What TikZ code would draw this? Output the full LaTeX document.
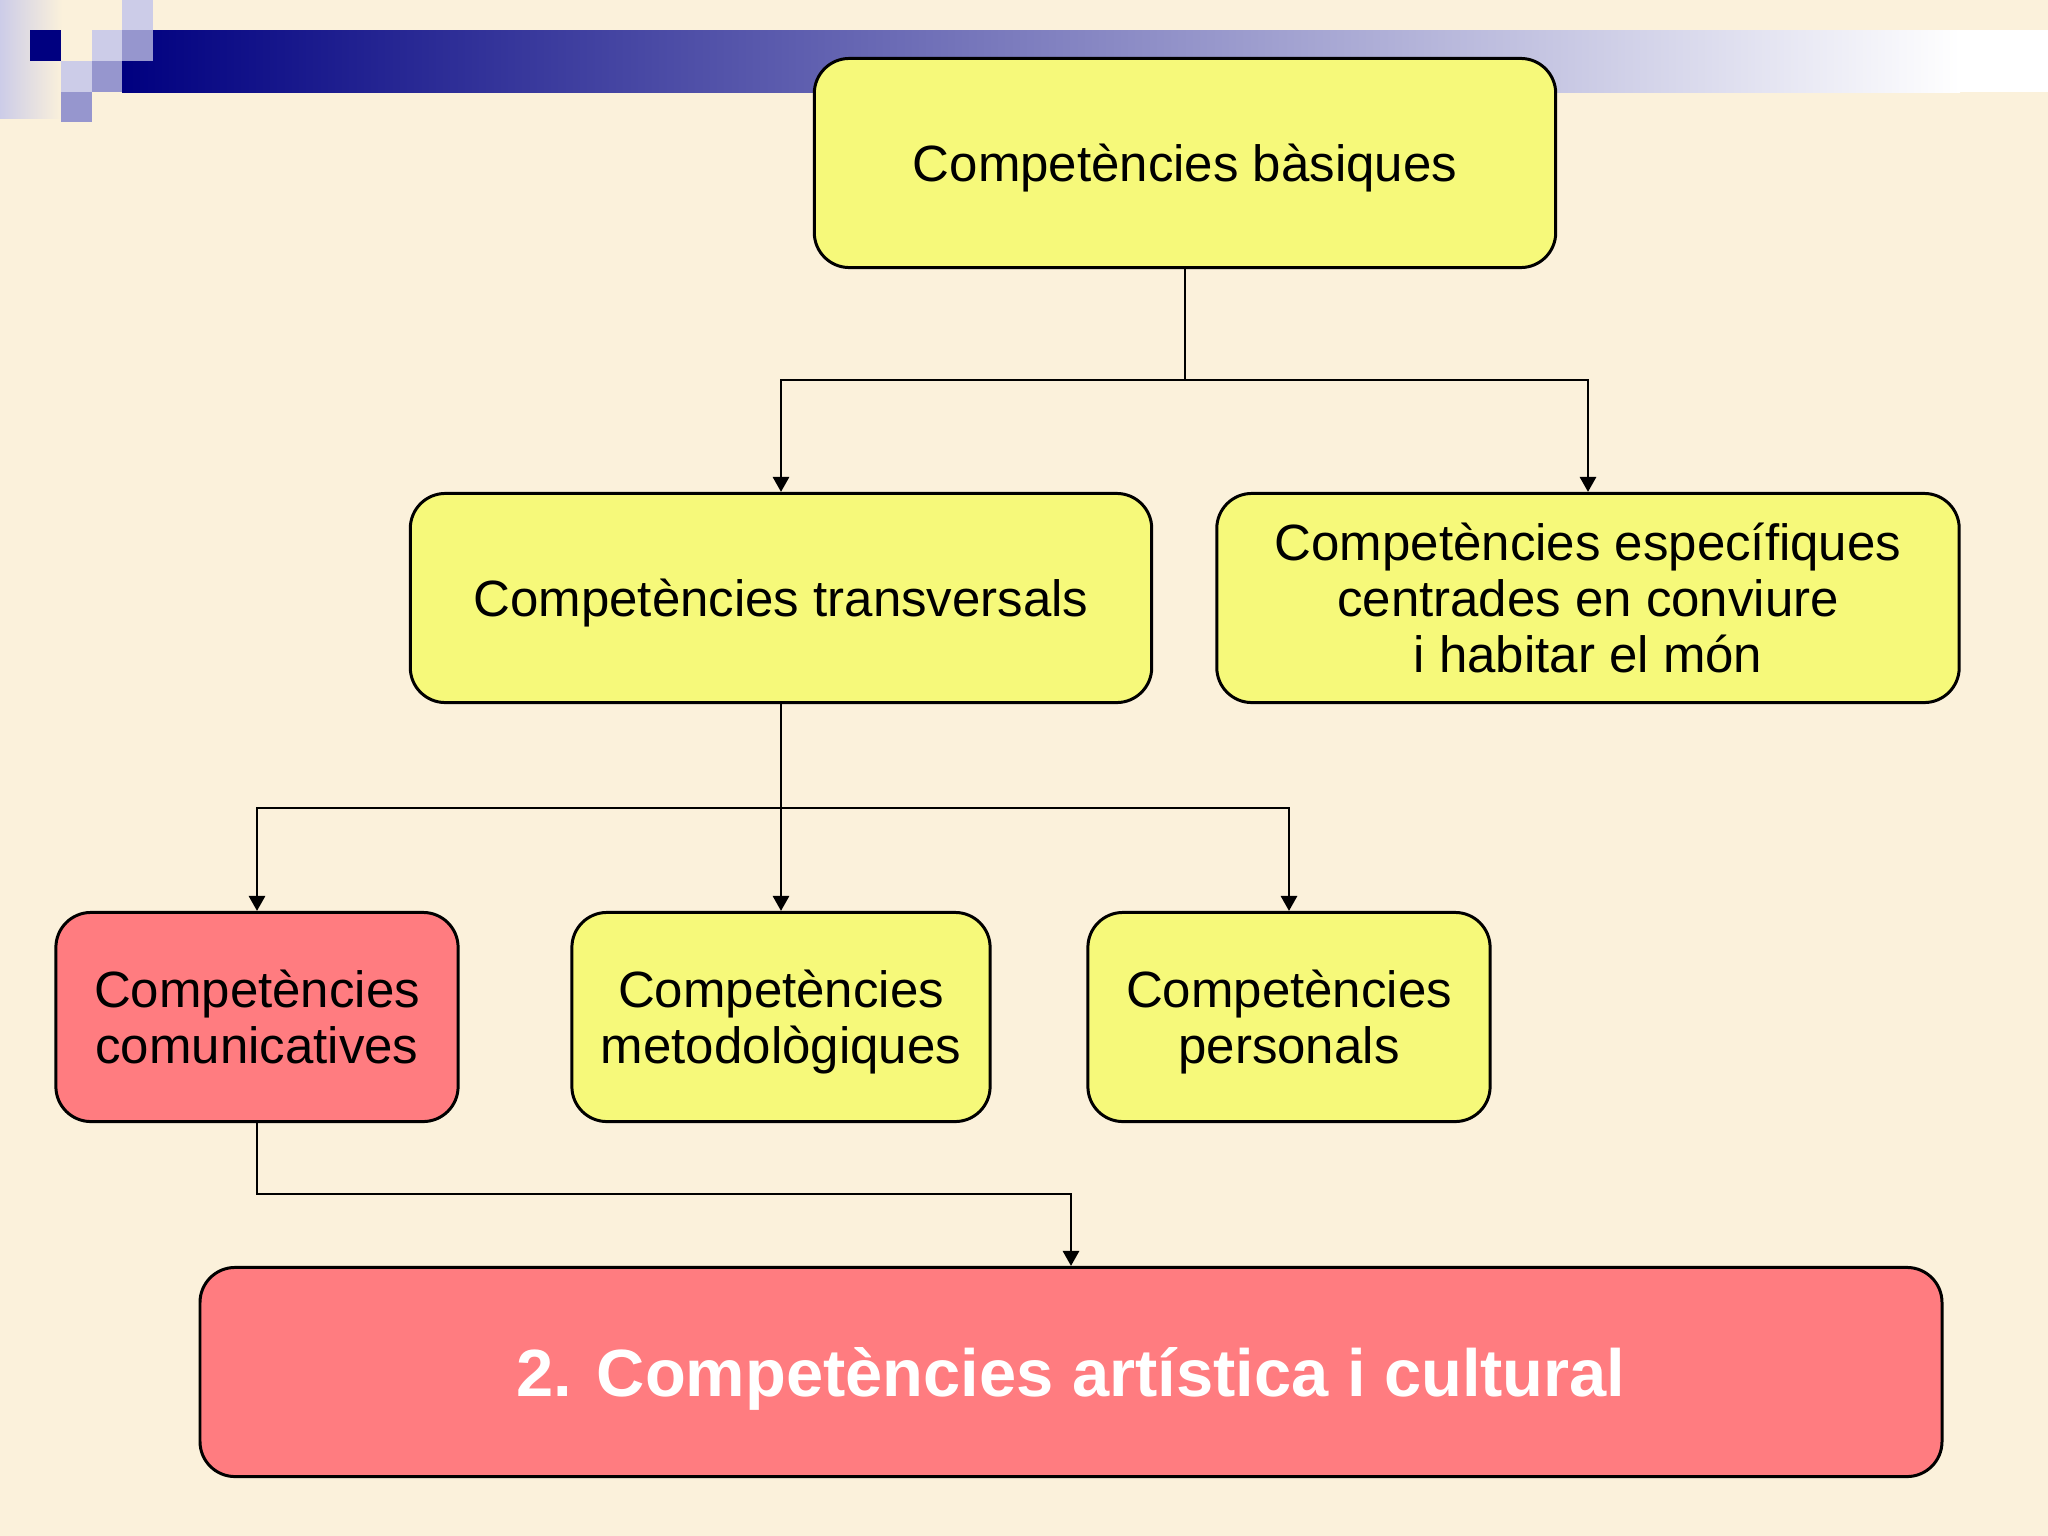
\documentclass[tikz,border=0pt]{standalone}
\usepackage{fontspec}
\setmainfont{Liberation Sans}
\usetikzlibrary{arrows.meta}
\definecolor{Parchment}{RGB}{251,241,219}
\definecolor{BoxYellow}{RGB}{246,249,122}
\definecolor{BoxPink}{RGB}{255,124,128}
\definecolor{Navy}{RGB}{0,0,128}
\definecolor{SquareLight}{RGB}{204,204,232}
\definecolor{SquareMid}{RGB}{150,150,206}
\tikzset{
  compbox/.style={draw=black, line width=0.85pt, rounded corners=0.35cm,
    align=center, inner sep=0pt, minimum height=2.09cm,
    font=\fontsize{14.5}{16}\selectfont},
  compline/.style={compbox, text depth=0pt},
  conn/.style={line width=0.8pt, -{Triangle[width=0.16cm,length=0.15cm]}},
}
\begin{document}
\begin{tikzpicture}[x=0.01cm, y=-0.01cm]

    \useasboundingbox (0,0) rectangle (2048,1536);
    \fill[Parchment] (0,0) rectangle (2048,1536);

    % Franja i quadrats de la plantilla.
    \shade[left color=SquareLight, right color=Parchment] (0,0) rectangle (62,118);
    \shade[left color=Navy, right color=white] (122,61) rectangle (1960,92);
    \shade[left color=Navy, right color=white] (122,30) rectangle (1960,61);
    \fill[white] (1960,30) rectangle (2048,92);
    \fill[Navy] (30,30) rectangle (61,61);
    \fill[SquareLight] (92,30) rectangle (122,61);
    \fill[SquareLight] (122,0) rectangle (153,30);
    \fill[SquareLight] (61,61) rectangle (92,92);
    \fill[SquareMid] (122,30) rectangle (153,61);
    \fill[SquareMid] (92,61) rectangle (122,92);
    \fill[SquareMid] (61,92) rectangle (92,122);

    \node[compline, fill=BoxYellow, minimum width=7.41cm] (basiques) at (1185,163)
      {Competències bàsiques};
    \node[compline, fill=BoxYellow, minimum width=7.41cm] (transversals) at (781,598)
      {Competències transversals};
    \node[compbox, fill=BoxYellow, minimum width=7.42cm] (especifiques) at (1588,598)
      {Competències específiques\\centrades en conviure\\i habitar el món};

    \node[compbox, fill=BoxPink, minimum width=4.02cm] (comunicatives) at (257,1017)
      {Competències\\comunicatives};
    \node[compbox, fill=BoxYellow, minimum width=4.18cm] (metodologiques) at (781,1017)
      {Competències\\\smash{metodològiques}};
    \node[compbox, fill=BoxYellow, minimum width=4.02cm] (personals) at (1289,1017)
      {Competències\\\smash{personals}};

    \node[compline, fill=BoxPink, minimum width=17.41cm, text=white,
      font=\fontsize{19}{22}\selectfont\bfseries] (artistica) at (1071,1372)
      {2. Competències artística i cultural};

    % Punts on es reparteixen les fletxes.
    \coordinate (j1) at (1185,380);
    \coordinate (j2) at (781,808);
    \coordinate (j3) at (1071,1194);

    \draw[conn] (basiques.south) -- (j1) -| (transversals.north);
    \draw[conn] (j1) -| (especifiques.north);

    \draw[conn] (transversals.south) -- (metodologiques.north);
    \draw[conn] (j2) -| (comunicatives.north);
    \draw[conn] (j2) -| (personals.north);

    \draw[conn] (comunicatives.south) |- (j3) -- (artistica.north);
\end{tikzpicture}
\end{document}
